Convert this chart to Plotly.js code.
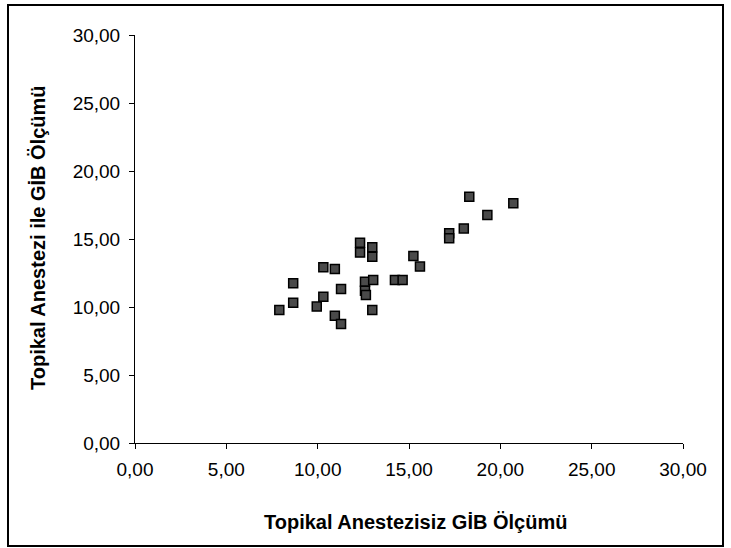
<!DOCTYPE html>
<html><head><meta charset="utf-8">
<script src="https://cdn.plot.ly/plotly-3.0.1.min.js"></script>
<style>html,body{margin:0;padding:0;background:#fff;}#chart{width:731px;height:548px;}</style>
</head><body><div id="chart"></div>
<script>
const xValues = [7.90, 8.66, 8.66, 10.31, 10.94, 9.95, 10.31, 11.28, 10.94, 11.28, 12.32, 12.32, 12.99, 12.99, 12.59, 13.04, 12.59, 12.64, 12.99, 14.23, 14.65, 15.24, 15.60, 17.20, 17.20, 18.00, 18.30, 19.29, 20.71];
const yValues = [9.78, 10.32, 11.74, 12.92, 12.79, 10.03, 10.76, 11.32, 9.36, 8.75, 14.73, 14.00, 14.39, 13.70, 11.86, 11.99, 11.20, 10.88, 9.78, 11.99, 11.99, 13.75, 12.97, 15.42, 15.05, 15.78, 18.10, 16.76, 17.62];
const tickValues = [0, 5, 10, 15, 20, 25, 30];
const xTitle = "Topikal Anestezisiz GİB Ölçümü";
const yTitle = "Topikal Anestezi ile GİB Ölçümü";

const L = 135, R = 48, T = 35, B = 105;
const W = 731 - L - R, H = 548 - T - B;
const FONT = 'Liberation Sans, Arial, sans-serif';

Plotly.newPlot('chart', [{
  type: 'scatter', mode: 'markers', x: xValues, y: yValues,
  marker: {symbol: 'square', size: 9, color: '#4a4a4a', line: {color: '#000', width: 1.5}},
  hoverinfo: 'x+y', cliponaxis: false
}], {
  width: 731, height: 548,
  margin: {l: L, r: R, t: T, b: B},
  paper_bgcolor: '#fff', plot_bgcolor: '#fff',
  separators: ',.',
  showlegend: false,
  font: {family: FONT, color: '#000', size: 19},
  xaxis: {
    range: [0, 30], tickvals: tickValues, tickformat: '.2f',
    showgrid: false, zeroline: false, showline: true, linecolor: '#000', linewidth: 1,
    ticks: 'outside', ticklen: 5, tickcolor: '#000',
    tickfont: {size: 19}, ticklabelstandoff: 4
  },
  yaxis: {
    range: [0, 30], tickvals: tickValues, tickformat: '.2f',
    showgrid: false, zeroline: false, showline: true, linecolor: '#000', linewidth: 1,
    ticks: 'outside', ticklen: 5, tickcolor: '#000',
    tickfont: {size: 19}, ticklabelstandoff: 5
  },
  annotations: [
    {text: '<b>' + xTitle + '</b>', xref: 'paper', yref: 'paper',
     x: (415 - L) / W, y: (548 - B - 522) / H, xanchor: 'center', yanchor: 'middle',
     showarrow: false, font: {size: 20, family: FONT}},
    {text: '<b>' + yTitle + '</b>', xref: 'paper', yref: 'paper', textangle: -90,
     x: (38 - L) / W, y: (548 - B - 238) / H, xanchor: 'center', yanchor: 'middle',
     showarrow: false, font: {size: 20, family: FONT}}
  ],
  shapes: [{
    type: 'rect', xref: 'paper', yref: 'paper',
    x0: (8 - L) / W, x1: (723 - L) / W,
    y0: (548 - B - 546) / H, y1: (548 - B - 5) / H,
    line: {color: '#000', width: 2}
  }]
}, {staticPlot: true});
</script></body></html>
